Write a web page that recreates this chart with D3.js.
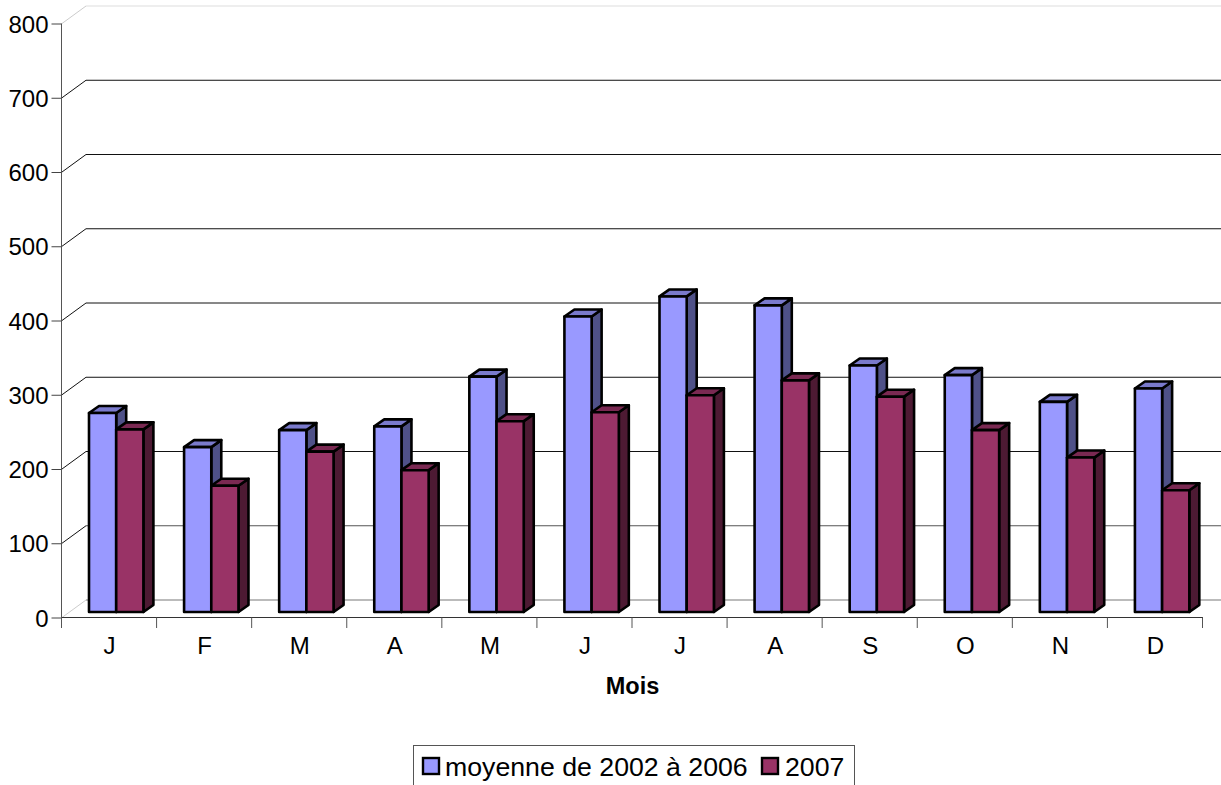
<!DOCTYPE html>
<html><head><meta charset="utf-8">
<script src="https://cdn.jsdelivr.net/npm/d3@7/dist/d3.min.js"></script>
<style>html,body{margin:0;padding:0;background:#fff;overflow:hidden}svg{display:block}text{font-family:"Liberation Sans",Arial,sans-serif;fill:#000}</style>
</head><body><svg id="c" width="1221" height="785"></svg>
<script>
const months = ["J","F","M","A","M","J","J","A","S","O","N","D"];
const seriesNames = ["moyenne de 2002 à 2006","2007"];
const moyenne = [268,222,245,250,317,398,425,413,332,319,283,301];
const annee2007 = [246,170,216,191,257,269,292,312,290,245,208,164];
const yTicks = [0,100,200,300,400,500,600,700,800];
const colors = [{front:"#9999ff",top:"#7a7acc",side:"#4f5188"},{front:"#993366",top:"#7a2952",side:"#4d1a33"}];

const svg = d3.select("#c");
const y = d3.scaleLinear().domain([0,800]).range([617.5,23.5]);
const x = d3.scaleBand().domain(d3.range(12)).range([62,1203]);
const wallDx = 24, wallDy = -17.5, barDx = 10, barDy = -7, barBase = -5.5;
const barW = 27.2, barStart = 27;

const gridColor = v => v===800 ? "#eeeeee" : v===0 ? "#bbbbbb" : v===100 ? "#555555" : "#111111";
const diagColor = v => (v===800||v===0) ? "#cccccc" : "#111111";
const grid = svg.append("g");
yTicks.forEach(v=>{
  grid.append("line").attr("x1",62).attr("y1",y(v)).attr("x2",62+wallDx).attr("y2",y(v)+wallDy)
    .attr("stroke",diagColor(v)).attr("stroke-width",1);
  grid.append("line").attr("x1",62+wallDx).attr("y1",y(v)+wallDy).attr("x2",1221).attr("y2",y(v)+wallDy)
    .attr("stroke",gridColor(v)).attr("stroke-width",(v===800||v===0)?2:1);
});

const yBar = v => y(v)+barBase;
[moyenne,annee2007].forEach((vals,s)=>{
  const c = colors[s];
  const g = svg.append("g");
  vals.forEach((v,i)=>{
    const x0 = x(i)+barStart+s*barW, x1 = x0+barW, yt = yBar(v), yb = yBar(0);
    const attrs = sel => sel.attr("stroke","#000").attr("stroke-width",2.6).attr("stroke-linejoin","round");
    attrs(g.append("polygon").attr("points",[[x1,yb],[x1+barDx,yb+barDy],[x1+barDx,yt+barDy],[x1,yt]].join(" ")).attr("fill",c.side));
    attrs(g.append("polygon").attr("points",[[x0,yt],[x0+barDx,yt+barDy],[x1+barDx,yt+barDy],[x1,yt]].join(" ")).attr("fill",c.top));
    attrs(g.append("rect").attr("x",x0).attr("y",yt).attr("width",barW).attr("height",yb-yt).attr("fill",c.front));
  });
});

const ax = svg.append("g").attr("transform","translate(61.5,0)")
  .call(d3.axisLeft(y).tickValues(yTicks).tickSize(10).tickPadding(3).tickFormat(d3.format("d")));
ax.selectAll("text").attr("font-size",24).attr("font-family","Liberation Sans, Arial, sans-serif").attr("fill","#000").attr("dy","0.36em");
ax.selectAll("line").attr("stroke","#444");
ax.select(".domain").attr("stroke","#555").attr("d","M0,23.5V628");

const bx = svg.append("g").attr("transform","translate(0,617.5)")
  .call(d3.axisBottom(x).tickSize(0).tickPadding(19).tickFormat(i=>months[i]));
bx.selectAll("text").attr("font-size",24).attr("font-family","Liberation Sans, Arial, sans-serif").attr("fill","#000");
bx.select(".domain").attr("stroke","#333").attr("d","M62,0H1203");
const sep = svg.append("g");
d3.range(13).forEach(i=>{
  const px = i<12 ? x(i) : x.range()[1];
  sep.append("line").attr("x1",px-0.5).attr("x2",px-0.5).attr("y1",617.5).attr("y2",628).attr("stroke","#555");
});

svg.append("text").attr("x",632.5).attr("y",694).attr("text-anchor","middle").attr("font-size",23.5).attr("font-weight","bold").text("Mois");

const leg = svg.append("g");
leg.append("rect").attr("x",413.5).attr("y",745.5).attr("width",441).attr("height",44).attr("fill","#fff").attr("stroke","#555");
[[423,445],[762,785]].forEach(([sx,tx],i)=>{
  leg.append("rect").attr("x",sx).attr("y",758).attr("width",16).attr("height",16).attr("fill",colors[i].front).attr("stroke","#000").attr("stroke-width",2.4);
  leg.append("text").attr("x",tx).attr("y",776).attr("font-size",26.7).text(seriesNames[i]);
});
</script></body></html>
